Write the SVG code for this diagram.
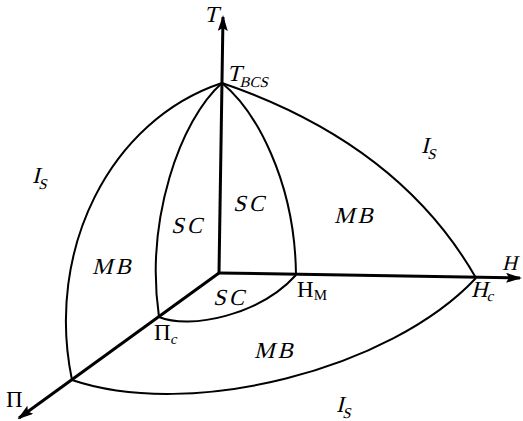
<svg xmlns="http://www.w3.org/2000/svg" width="523" height="421" viewBox="0 0 523 421">
<style>
.ax{stroke:#000;stroke-width:3;fill:none}
.cv{stroke:#000;stroke-width:2;fill:none}
.lb text{font-family:"Liberation Serif","Times New Roman",serif;font-size:23px;font-style:normal;fill:#000}
.lb .sub{font-size:15px}
.lb .w{letter-spacing:3px}
</style>
<defs>
<marker id="arr" markerWidth="16" markerHeight="10" refX="14" refY="5" orient="auto" markerUnits="userSpaceOnUse">
<path d="M0,0 L16,5 L0,10 L3,5 Z" fill="#000"/>
</marker>
</defs>
<g id="connectors">
<path class="ax" d="M219,273 L223,17" marker-end="url(#arr)"/>
<path class="ax" d="M219,273 L520,278" marker-end="url(#arr)"/>
<path class="ax" d="M219,273 L19,418" marker-end="url(#arr)"/>
<path class="cv" d="M222,83 C110,120 45,250 72,380"/>
<path class="cv" d="M222,83 C180,120 145,220 159,317"/>
<path class="cv" d="M222,83 C255,110 295,180 296,275"/>
<path class="cv" d="M222,83 C330,120 420,180 476,278"/>
<path class="cv" d="M159,317 C190,330 260,315 296,275"/>
<path class="cv" d="M72,380 C190,420 390,370 476,278"/>
</g>
<g id="labels" class="lb">
<text transform="translate(204,22) skewX(-14)">T</text>
<text transform="translate(227,81) skewX(-14)">T<tspan class="sub" dy="6">BCS</tspan></text>
<text transform="translate(502,270) skewX(-14)" style="font-size:21px">H</text>
<text x="6" y="407">Π</text>
<text x="154" y="340">Π<tspan class="sub" dy="4" font-style="italic">c</tspan></text>
<text x="297" y="297">H<tspan class="sub" dy="3">M</tspan></text>
<text transform="translate(471,297) skewX(-14)">H<tspan class="sub" dy="4">c</tspan></text>
<text transform="translate(32,183) skewX(-14)">I<tspan class="sub" dy="6">S</tspan></text>
<text transform="translate(421,153) skewX(-14)">I<tspan class="sub" dy="6">S</tspan></text>
<text transform="translate(336,412) skewX(-14)">I<tspan class="sub" dy="6">S</tspan></text>
<text transform="translate(92,274) skewX(-14)" class="w">MB</text>
<text transform="translate(334,223) skewX(-14)" class="w">MB</text>
<text transform="translate(254,358) skewX(-14)" class="w">MB</text>
<text transform="translate(171,233) skewX(-14)" class="w">SC</text>
<text transform="translate(233,211) skewX(-14)" class="w">SC</text>
<text transform="translate(213,305) skewX(-14)" class="w">SC</text>
</g>
</svg>
